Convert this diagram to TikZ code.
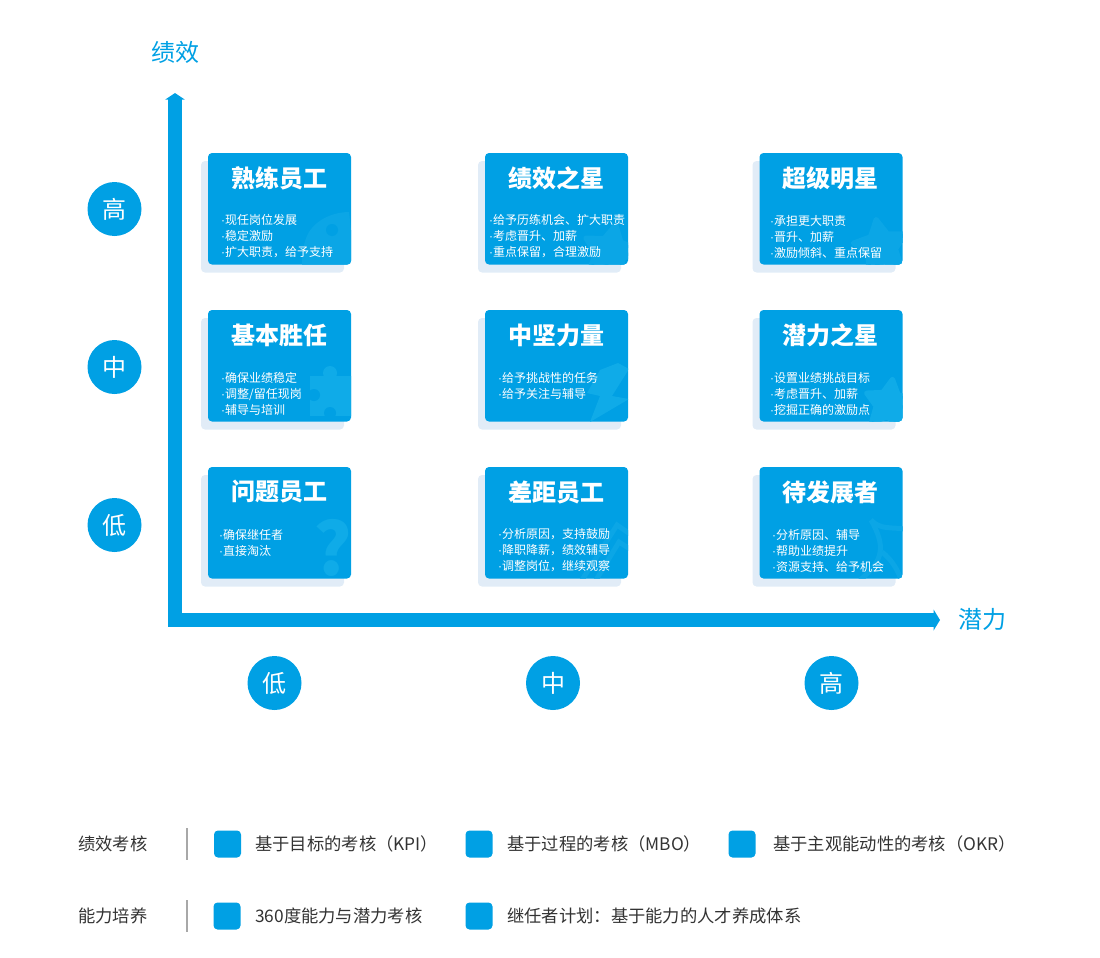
\documentclass[tikz,border=0pt]{standalone}
\usepackage{fontspec}
\setmainfont{Noto Sans CJK SC}
\newfontfamily\dotfont{Liberation Sans}
\newcommand{\itemdot}{{\dotfont ·}}
\usetikzlibrary{arrows.meta,shadows,shapes.geometric}
\definecolor{mainblue}{HTML}{00A0E4}
\definecolor{paleblue}{HTML}{E1ECF7}
\definecolor{markblue}{HTML}{0FABE8}
\definecolor{softblue}{HTML}{0BA6E6}
\definecolor{legendgray}{HTML}{A8A8A8}
\definecolor{legendtext}{HTML}{333333}
\tikzset{
    cardbox/.style={fill=mainblue,rounded corners=4pt,minimum width=143pt,minimum height=111.5pt,inner sep=0pt,
        general shadow={fill=paleblue,shadow xshift=-7pt,shadow yshift=-8pt}},
    cardtitle/.style={text=white,font=\fontsize{24}{28}\selectfont\bfseries,inner sep=0pt},
    cardtext/.style={text=white,font=\fontsize{12}{16}\selectfont,align=left,anchor=west,inner sep=0pt},
    levelnode/.style={circle,fill=mainblue,minimum size=54pt,inner sep=0pt,text=white,font=\fontsize{24}{28}\selectfont},
    axislabel/.style={text=mainblue,font=\fontsize{24}{28}\selectfont,inner sep=0pt},
    axisline/.style={draw=mainblue,line width=14pt,miter limit=10},
    legendbox/.style={fill=mainblue,rounded corners=4pt,minimum size=27pt,inner sep=0pt},
    legendlabel/.style={text=legendtext,font=\fontsize{17.3}{20}\selectfont,anchor=west,inner sep=0pt},
    legendrule/.style={draw=legendgray,line width=1.5pt},
    markfill/.style={fill=markblue,draw=none},
    softstar/.style={star,star points=5,star point ratio=1.9,fill=softblue,draw=softblue,line width=5pt,line join=round,inner sep=0pt},
    markline/.style={draw=softblue,line width=5pt},
}
\begin{document}
\begin{tikzpicture}[x=1pt,y=-1pt]
    \useasboundingbox (0,0) rectangle (1100,958);
    %% Axes
    \coordinate (ytip) at (175,93);
    \coordinate (origin) at (175,620);
    \coordinate (xtip) at (940,620);
    \draw[axisline,{Triangle[length=6.5pt,width=19pt]}-{Triangle[length=6.5pt,width=21pt]}] (ytip) -- (origin) -- (xtip);
    \node[axislabel] (yname) at (175.5,52) {绩效};
    \node[axislabel] (xname) at (982.5,619) {潜力};
    %% Levels
    \node[levelnode] (yhigh) at (114.5,209) {高};
    \node[levelnode] (ymid) at (114.5,367) {中};
    \node[levelnode] (ylow) at (114.5,525) {低};
    \node[levelnode] (xlow) at (274.5,683) {低};
    \node[levelnode] (xmid) at (553,683) {中};
    \node[levelnode] (xhigh) at (831.5,683) {高};
    %% Top row
    \node[cardbox] (skilled) at (279.5,208.75) {};
    \begin{scope}
        \clip[rounded corners=4pt] (skilled.north west) rectangle (skilled.south east);
        \fill[softblue] (349,212) .. controls (335,212) and (318,218) .. (309,232)
            .. controls (303,242) and (302,255) .. (302,266) -- (352,266) -- (352,240)
            .. controls (351,230) and (350,220) .. cycle;
        \fill[mainblue] (332,230) circle (6);
    \end{scope}
    \node[cardtitle] (skilledname) at (279,178) {熟练员工};
    \node[cardtext] (skilledtext) at (221,236.5) {\itemdot 现任岗位发展\\\itemdot 稳定激励\\\itemdot 扩大职责，给予支持};
    \node[cardbox] (starperf) at (556.5,208.75) {};
    \begin{scope}
        \clip[rounded corners=4pt] (starperf.north west) rectangle (starperf.south east);
        \node[softstar,minimum size=56pt,rotate=-12] (starperfmark) at (610,252) {};
    \end{scope}
    \node[cardtitle] (starperfname) at (556,178) {绩效之星};
    \node[cardtext] (starperftext) at (489,236.5) {\itemdot 给予历练机会、扩大职责\\\itemdot 考虑晋升、加薪\\\itemdot 重点保留，合理激励};
    \node[cardbox] (superstar) at (831,208.75) {};
    \begin{scope}
        \clip[rounded corners=4pt] (superstar.north west) rectangle (superstar.south east);
        \node[softstar,minimum size=56pt,rotate=10] (superstarmark) at (881,247) {};
    \end{scope}
    \node[cardtitle] (superstarname) at (830,178) {超级明星};
    \node[cardtext] (superstartext) at (770,236.5) {\itemdot 承担更大职责\\\itemdot 晋升、加薪\\\itemdot 激励倾斜、重点保留};
    %% Middle row
    \node[cardbox] (basic) at (279.5,365.75) {};
    \begin{scope}
        \clip[rounded corners=4pt] (basic.north west) rectangle (basic.south east);
        \fill[markfill] (310,376) rectangle (352,416);
        \fill[markfill] (330,373) circle (7);
        \fill[mainblue] (314,395) circle (6);
        \fill[mainblue] (330,413) circle (6);
    \end{scope}
    \node[cardtitle] (basicname) at (279,335) {基本胜任};
    \node[cardtext] (basictext) at (221,393.5) {\itemdot 确保业绩稳定\\\itemdot 调整/留任现岗\\\itemdot 辅导与培训};
    \node[cardbox] (core) at (556.5,365.75) {};
    \begin{scope}
        \clip[rounded corners=4pt] (core.north west) rectangle (core.south east);
        \fill[markfill] (618,363) -- (600,370) -- (587,393) -- (600,396) -- (590,422) -- (629,399) -- (612,396) -- (629,369) -- cycle;
    \end{scope}
    \node[cardtitle] (corename) at (556,335) {中坚力量};
    \node[cardtext] (coretext) at (498,385.5) {\itemdot 给予挑战性的任务\\\itemdot 给予关注与辅导};
    \node[cardbox] (potential) at (831,365.75) {};
    \begin{scope}
        \clip[rounded corners=4pt] (potential.north west) rectangle (potential.south east);
        \node[softstar,fill=markblue,draw=markblue,minimum size=50pt,rotate=-8] (potentialmark) at (889,404) {};
    \end{scope}
    \node[cardtitle] (potentialname) at (830,335) {潜力之星};
    \node[cardtext] (potentialtext) at (770,393.5) {\itemdot 设置业绩挑战目标\\\itemdot 考虑晋升、加薪\\\itemdot 挖掘正确的激励点};
    %% Bottom row
    \node[cardbox] (problem) at (279.5,522.75) {};
    \begin{scope}
        \clip[rounded corners=4pt] (problem.north west) rectangle (problem.south east);
        \node[text=markblue,font=\fontsize{72}{72}\selectfont\bfseries,inner sep=0pt] (problemmark) at (333,548) {?};
    \end{scope}
    \node[cardtitle] (problemname) at (279,492) {问题员工};
    \node[cardtext] (problemtext) at (219,542.5) {\itemdot 确保继任者\\\itemdot 直接淘汰};
    \node[cardbox] (gap) at (556.5,522.75) {};
    \begin{scope}
        \clip[rounded corners=4pt] (gap.north west) rectangle (gap.south east);
        \draw[markline] (582,580) -- (617,525) -- (630,534);
        \draw[markline] (596,580) -- (619,542) -- (630,549);
    \end{scope}
    \node[cardtitle] (gapname) at (556,492) {差距员工};
    \node[cardtext] (gaptext) at (498,550.5) {\itemdot 分析原因，支持鼓励\\\itemdot 降职降薪，绩效辅导\\\itemdot 调整岗位，继续观察};
    \node[cardbox] (waiting) at (831,522.75) {};
    \begin{scope}
        \clip[rounded corners=4pt] (waiting.north west) rectangle (waiting.south east);
        \draw[markline] (871,520) .. controls (880,530) and (892,527) .. (904,529);
        \draw[markline] (871,520) .. controls (885,545) and (885,560) .. (860,580);
        \draw[markline] (882,552) .. controls (892,560) and (898,570) .. (902,582);
    \end{scope}
    \node[cardtitle] (waitingname) at (830,492) {待发展者};
    \node[cardtext] (waitingtext) at (772,550.5) {\itemdot 分析原因、辅导\\\itemdot 帮助业绩提升\\\itemdot 资源支持、给予机会};
    %% Legend
    \node[legendlabel] (kpiname) at (78,844) {绩效考核};
    \draw[legendrule] (187,828) -- (187,860);
    \node[legendbox] (kpibox) at (227.5,844) {};
    \node[legendlabel] (kpitext) at (255,844) {基于目标的考核（KPI）};
    \node[legendbox] (mbobox) at (479,844) {};
    \node[legendlabel] (mbotext) at (507,844) {基于过程的考核（MBO）};
    \node[legendbox] (okrbox) at (742,844) {};
    \node[legendlabel] (okrtext) at (773,844) {基于主观能动性的考核（OKR）};
    \node[legendlabel] (growname) at (78,916) {能力培养};
    \draw[legendrule] (187,900) -- (187,932);
    \node[legendbox] (growbox) at (227,916) {};
    \node[legendlabel] (growtext) at (255,916) {360度能力与潜力考核};
    \node[legendbox] (planbox) at (479,916) {};
    \node[legendlabel] (plantext) at (507,916) {继任者计划：基于能力的人才养成体系};
\end{tikzpicture}
\end{document}
